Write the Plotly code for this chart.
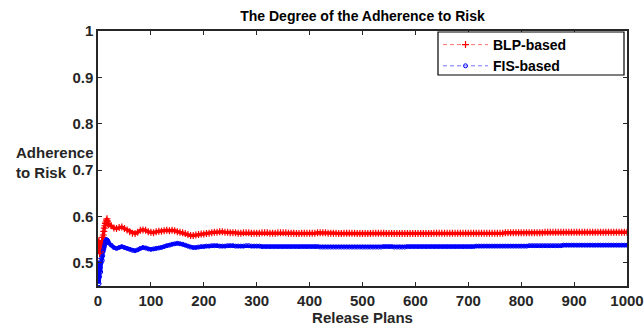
import plotly.graph_objects as go

# Release plan indices
x_early = list(range(1, 21))
x_rest = list(range(25, 1001, 5))
release_plans = x_early + x_rest

blp_based = [
    # 1..20
    0.545, 0.548, 0.520, 0.522, 0.525, 0.530, 0.540, 0.548, 0.555, 0.560,
    0.568, 0.575, 0.580, 0.585, 0.588, 0.592, 0.595, 0.590, 0.585, 0.582,
    # 25..200
    0.580, 0.575, 0.574, 0.576, 0.577, 0.574, 0.571, 0.567, 0.564, 0.563,
    0.566, 0.570, 0.571, 0.570, 0.567, 0.566, 0.565, 0.567, 0.568, 0.568,
    0.569, 0.570, 0.569, 0.570, 0.569, 0.567, 0.566, 0.565, 0.563, 0.561,
    0.559, 0.559, 0.560, 0.561, 0.562, 0.562,
    # 205..300
    0.563, 0.564, 0.565, 0.566, 0.566, 0.567, 0.567, 0.566, 0.566, 0.565,
    0.565, 0.565, 0.564, 0.564, 0.565, 0.565, 0.565, 0.564, 0.564, 0.564,
    # 305..400
    0.564, 0.565, 0.565, 0.565, 0.564, 0.564, 0.564, 0.565, 0.565, 0.565,
    0.565, 0.564, 0.564, 0.564, 0.563, 0.563, 0.564, 0.564, 0.564, 0.564,
    # 405..500
    0.564, 0.564, 0.565, 0.565, 0.565, 0.565, 0.564, 0.564, 0.564, 0.564,
    0.563, 0.563, 0.564, 0.564, 0.564, 0.564, 0.564, 0.563, 0.563, 0.563,
    # 505..600
    0.563, 0.563, 0.563, 0.564, 0.564, 0.564, 0.564, 0.564, 0.563, 0.563,
    0.563, 0.563, 0.563, 0.563, 0.563, 0.563, 0.563, 0.563, 0.563, 0.563,
    # 605..700
    0.563, 0.563, 0.563, 0.563, 0.563, 0.563, 0.564, 0.564, 0.564, 0.564,
    0.564, 0.564, 0.564, 0.564, 0.564, 0.564, 0.564, 0.564, 0.564, 0.564,
    # 705..800
    0.564, 0.564, 0.564, 0.564, 0.564, 0.564, 0.564, 0.564, 0.564, 0.564,
    0.564, 0.564, 0.564, 0.565, 0.565, 0.565, 0.565, 0.565, 0.565, 0.565,
    # 805..900
    0.565, 0.565, 0.565, 0.565, 0.565, 0.565, 0.565, 0.565, 0.566, 0.566,
    0.566, 0.566, 0.566, 0.566, 0.566, 0.566, 0.566, 0.566, 0.566, 0.566,
    # 905..1000
    0.566, 0.566, 0.566, 0.566, 0.566, 0.566, 0.566, 0.566, 0.566, 0.566,
    0.566, 0.566, 0.566, 0.566, 0.566, 0.566, 0.566, 0.566, 0.566, 0.566,
]

fis_based = [
    # 1..20
    0.505, 0.455, 0.470, 0.490, 0.480, 0.500, 0.510, 0.505, 0.515, 0.525,
    0.530, 0.535, 0.540, 0.545, 0.548, 0.550, 0.549, 0.548, 0.546, 0.543,
    # 25..200
    0.538, 0.533, 0.531, 0.533, 0.535, 0.533, 0.531, 0.529, 0.527, 0.526,
    0.528, 0.531, 0.533, 0.532, 0.530, 0.529, 0.530, 0.531, 0.532, 0.533,
    0.535, 0.537, 0.538, 0.540, 0.541, 0.542, 0.541, 0.540, 0.538, 0.536,
    0.534, 0.533, 0.533, 0.534, 0.535, 0.535,
    # 205..300
    0.536, 0.536, 0.537, 0.537, 0.537, 0.536, 0.536, 0.536, 0.537, 0.537,
    0.537, 0.536, 0.536, 0.536, 0.536, 0.537, 0.537, 0.536, 0.536, 0.536,
    # 305..400
    0.536, 0.535, 0.535, 0.535, 0.535, 0.535, 0.535, 0.535, 0.535, 0.535,
    0.535, 0.535, 0.535, 0.535, 0.535, 0.535, 0.535, 0.535, 0.535, 0.535,
    # 405..500
    0.535, 0.535, 0.535, 0.534, 0.534, 0.534, 0.534, 0.534, 0.534, 0.534,
    0.534, 0.534, 0.534, 0.534, 0.534, 0.534, 0.534, 0.534, 0.534, 0.534,
    # 505..600
    0.534, 0.534, 0.534, 0.534, 0.534, 0.534, 0.534, 0.535, 0.535, 0.535,
    0.535, 0.534, 0.534, 0.534, 0.534, 0.534, 0.535, 0.535, 0.535, 0.535,
    # 605..700
    0.535, 0.535, 0.535, 0.535, 0.535, 0.535, 0.535, 0.535, 0.535, 0.535,
    0.535, 0.535, 0.535, 0.535, 0.535, 0.535, 0.535, 0.535, 0.535, 0.535,
    # 705..800
    0.535, 0.535, 0.536, 0.536, 0.536, 0.536, 0.536, 0.536, 0.536, 0.536,
    0.536, 0.536, 0.536, 0.536, 0.536, 0.536, 0.536, 0.536, 0.536, 0.536,
    # 805..900
    0.536, 0.536, 0.537, 0.537, 0.537, 0.537, 0.537, 0.537, 0.537, 0.537,
    0.537, 0.537, 0.537, 0.537, 0.537, 0.538, 0.538, 0.538, 0.538, 0.538,
    # 905..1000
    0.538, 0.538, 0.538, 0.538, 0.538, 0.538, 0.538, 0.538, 0.538, 0.538,
    0.538, 0.538, 0.538, 0.538, 0.538, 0.538, 0.538, 0.538, 0.538, 0.538,
]

series_names = ["BLP-based", "FIS-based"]
x_ticks = list(range(0, 1001, 100))
y_ticks = [0.5, 0.6, 0.7, 0.8, 0.9, 1.0]
y_tick_labels = ["0.5", "0.6", "0.7", "0.8", "0.9", "1"]

FONT = "Arial, Liberation Sans, sans-serif"
TXT = "#262626"
RED = "#ff0000"
BLUE = "#0000ff"

fig = go.Figure()
# dense band (no legend entry)
fig.add_trace(go.Scatter(
    x=release_plans, y=blp_based, mode="lines", showlegend=False,
    legendgroup="blp", hoverinfo="skip",
    line=dict(color=RED, width=3.5),
))
fig.add_trace(go.Scatter(
    x=release_plans, y=fis_based, mode="lines", showlegend=False,
    legendgroup="fis", hoverinfo="skip",
    line=dict(color=BLUE, width=3.5),
))
# marker traces (legend entries)
fig.add_trace(go.Scatter(
    x=release_plans, y=blp_based, name="<b>%s</b>" % series_names[0],
    mode="lines+markers", legendgroup="blp",
    line=dict(color="rgba(255,0,0,0.55)", width=1, dash="4px,3px"),
    marker=dict(symbol="cross-thin-open", size=5, color=RED,
                line=dict(color=RED, width=1.2)),
))
fig.add_trace(go.Scatter(
    x=release_plans, y=fis_based, name="<b>%s</b>" % series_names[1],
    mode="lines+markers", legendgroup="fis",
    line=dict(color="rgba(0,0,255,0.55)", width=1, dash="4px,3px"),
    marker=dict(symbol="circle-open", size=4, color=BLUE,
                line=dict(color=BLUE, width=1)),
))

px_w = 529.0
px_h = 255.0


def px2x(px):
    return (px - 98) / px_w


def px2y(py):
    return 1 - (py - 31) / px_h


fig.update_layout(
    width=644, height=329,
    margin=dict(l=98, r=17, t=31, b=43, autoexpand=False),
    paper_bgcolor="white", plot_bgcolor="white",
    font=dict(family=FONT, color=TXT, size=14),
    title=dict(text="<b>The Degree of the Adherence to Risk</b>",
               x=(98 + 627) / 2 / 644, xanchor="center",
               y=1 - 16 / 329, yanchor="middle",
               font=dict(size=14, color="#000000", family=FONT)),
    showlegend=True,
    legend=dict(x=px2x(438), xanchor="left", y=px2y(29), yanchor="top",
                bgcolor="rgba(0,0,0,0)", borderwidth=0,
                font=dict(size=14, color="#000000", family=FONT),
                tracegroupgap=0, itemwidth=45),
    shapes=[dict(type="rect", xref="paper", yref="paper",
                 x0=px2x(438), x1=px2x(624), y0=px2y(75), y1=px2y(32),
                 line=dict(color="#000000", width=1.2), fillcolor="white",
                 layer="above")],
)

fig.update_xaxes(
    range=[0, 1000], tickvals=x_ticks, ticktext=["<b>%d</b>" % v for v in x_ticks],
    ticks="inside", ticklen=4, automargin=False,
    tickcolor="#262626", showline=True, linecolor="#262626", linewidth=1.5,
    mirror="ticks", showgrid=False, zeroline=False,
    tickfont=dict(size=15, family=FONT, color=TXT),
    title=dict(text="<b>Release Plans</b>", standoff=2,
               font=dict(size=15, family=FONT, color=TXT)),
)
fig.update_yaxes(
    range=[0.45, 1.0], tickvals=y_ticks, ticktext=["<b>%s</b>" % t for t in y_tick_labels],
    ticks="inside", ticklen=4, tickcolor="#262626", automargin=False,
    showline=True, linecolor="#262626", linewidth=1.5, mirror="ticks",
    showgrid=False, zeroline=False,
    tickfont=dict(size=15, family=FONT, color=TXT),
)

fig.add_annotation(
    xref="paper", yref="paper", x=(14 - 98) / 529, y=1 - (162 - 31) / 255,
    xanchor="left", yanchor="middle", align="left", showarrow=False,
    text="<b>Adherence<br>to Risk</b>",
    font=dict(size=15, family=FONT, color=TXT),
)

fig.write_html("out.html")
